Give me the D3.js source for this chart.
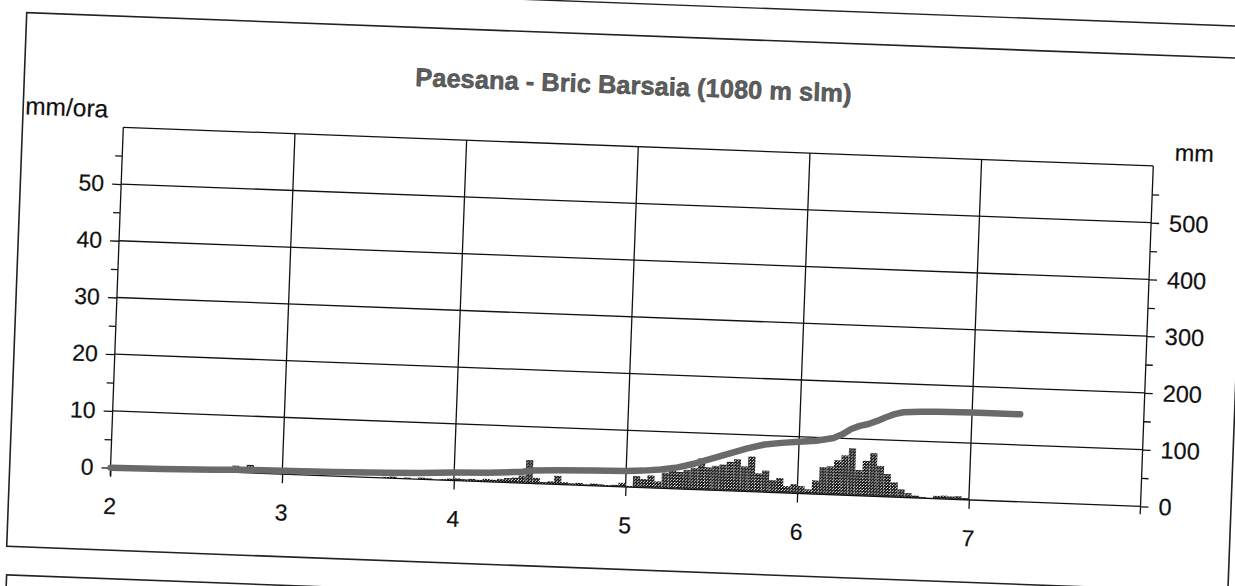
<!DOCTYPE html>
<html>
<head>
<meta charset="utf-8">
<script src="https://cdn.jsdelivr.net/npm/d3@7"></script>
<style>
  html, body { margin: 0; padding: 0; background: #fff; }
  svg { display: block; }
  text { font-family: "Liberation Sans", Arial, Helvetica, sans-serif; fill: #111; }
</style>
</head>
<body>
<svg id="chart" width="1235" height="586"></svg>
<script>
// ---------------- data ----------------
const chartTitle = "Paesana - Bric Barsaia (1080 m slm)";
const leftUnit = "mm/ora";
const rightUnit = "mm";
const xTicks = [2, 3, 4, 5, 6, 7];
const leftTicks = [0, 10, 20, 30, 40, 50];
const leftMinorTicks = [5, 15, 25, 35, 45, 55];
const rightTicks = [0, 100, 200, 300, 400, 500];
const rightMinorTicks = [50, 150, 250, 350, 450, 550];

// hourly rainfall intensity (mm/ora), one value per hour starting at day 2
const hourlyStartDay = 2;
const hourlyRain = [
  // day 2
  0,0,0,0,0,0,0,0,0,0,0,0,0,0,0,0,0.8,1.2,0.9,1.4,0.6,0,0,0,
  // day 3
  0,0,0,0,0,0,0,0,0,0,0,0,0,0,0.2,0.3,0,0.2,0,0.3,0.2,0,0.2,0.3,
  // day 4
  0.4,0.3,0.4,0.3,0.5,0.4,0.6,0.8,0.9,1.3,4.1,1.0,0.3,0.5,1.5,0.4,0.3,0.4,0.2,0.4,0.3,0.2,0.3,0.7,
  // day 5
  0.2,2.0,1.5,2.2,1.2,2.8,3.2,3.0,3.4,3.8,5.5,4.0,4.3,4.6,5.1,5.6,4.4,6.2,3.3,3.8,2.2,2.6,1.2,1.6,
  // day 6
  1.3,0.8,2.4,4.8,5.0,6.1,7.0,8.3,4.5,6.2,7.6,5.4,4.0,2.6,1.4,0.8,0.4,0.2,0,0.5,0.6,0.5,0.6,0.3
];

// cumulative rainfall (mm)
const cumDay = [2.0, 2.3, 2.6, 2.75, 3.0, 3.3, 3.6, 3.8, 4.0, 4.2, 4.4, 4.45, 4.6, 4.8, 5.0, 5.1, 5.2, 5.3, 5.4, 5.5, 5.6, 5.7, 5.8, 5.9, 6.0, 6.1, 6.2, 6.25, 6.3, 6.35, 6.4, 6.45, 6.5, 6.55, 6.6, 6.7, 6.8, 7.0, 7.28];
const cumMm  = [0,   1,   3,   5,    6,   7,   9,   11,  14,  16,  20,  23,   25,  27,  28,  30,  33,  38,  46,  56,  66,  76,  84,  88,  91,  94,  100, 107,  117, 123,  127, 133,  140, 146,  150, 152, 153, 154, 154];

// ---------------- layout ----------------
const svg = d3.select("#chart");
const tilt = 2.15;                 // scanned page rotation (degrees)
const plot = { left: 123.3, top: 127.3, width: 1030.7, height: 340.6 };
const frame = { x: 22.5, y: 16.4, w: 1222, h: 534 };
const fontFam = '"Liberation Sans", Arial, Helvetica, sans-serif';

const x = d3.scaleLinear().domain([2, 8]).range([plot.left, plot.left + plot.width]);
const yL = d3.scaleLinear().domain([0, 60]).range([plot.top + plot.height, plot.top]);
const yR = d3.scaleLinear().domain([0, 600]).range([plot.top + plot.height, plot.top]);

const defs = svg.append("defs");
const pat = defs.append("pattern").attr("id", "stipple")
  .attr("patternUnits", "userSpaceOnUse").attr("width", 3).attr("height", 3);
pat.append("rect").attr("width", 3).attr("height", 3).attr("fill", "#fff");
pat.append("circle").attr("cx", 0.75).attr("cy", 0.75).attr("r", 1.15).attr("fill", "#000");
pat.append("circle").attr("cx", 2.25).attr("cy", 2.25).attr("r", 1.15).attr("fill", "#000");

const g = svg.append("g").attr("transform", `rotate(${tilt}, ${plot.left}, ${plot.top})`);

// neighbouring frames on the scanned page + this frame
g.append("rect").attr("x", frame.x - 2).attr("y", -700).attr("width", frame.w + 4).attr("height", 700 - 15.6)
  .attr("fill", "none").attr("stroke", "#222").attr("stroke-width", 1.4);
g.append("rect").attr("x", frame.x + 1).attr("y", 579).attr("width", frame.w).attr("height", 600)
  .attr("fill", "none").attr("stroke", "#222").attr("stroke-width", 1.6);
g.append("rect").attr("x", frame.x).attr("y", frame.y).attr("width", frame.w).attr("height", frame.h)
  .attr("fill", "none").attr("stroke", "#222").attr("stroke-width", 1.6);

// title and units
g.append("text").attr("x", frame.x + frame.w / 2 - 2).attr("y", 75)
  .attr("text-anchor", "middle").attr("font-size", 25.5).attr("font-weight", "bold")
  .style("fill", "#5e5e5e").style("stroke", "#333").style("stroke-width", 0.45)
  .text(chartTitle);
g.append("text").attr("x", 24.5).attr("y", 118).attr("font-size", 24.5)
  .style("stroke", "#111").style("stroke-width", 0.2).text(leftUnit);
g.append("text").attr("x", 1175).attr("y", 121).attr("font-size", 23.5)
  .style("stroke", "#111").style("stroke-width", 0.2).text(rightUnit);

// grid
const grid = g.append("g").attr("stroke", "#111").attr("stroke-width", 1.3);
leftTicks.filter(d => d > 0).forEach(v => {
  grid.append("line").attr("x1", x(2)).attr("x2", x(8)).attr("y1", yL(v)).attr("y2", yL(v));
});
xTicks.filter(d => d > 2).forEach(v => {
  grid.append("line").attr("x1", x(v)).attr("x2", x(v)).attr("y1", yL(60)).attr("y2", yL(0));
});
grid.append("line").attr("x1", x(2)).attr("x2", x(8)).attr("y1", yL(60)).attr("y2", yL(60));

// bars
const hours = hourlyRain.map((v, i) => ({ t: hourlyStartDay + i / 24, v }));
g.append("g").selectAll("rect").data(hours.filter(d => d.v > 0)).join("rect")
  .attr("x", d => x(d.t))
  .attr("width", d => x(d.t + 1 / 24) - x(d.t))
  .attr("y", d => yL(d.v))
  .attr("height", d => yL(0) - yL(d.v))
  .attr("fill", "url(#stipple)");

// axes
const axisStyle = (sel, fs) => {
  sel.select(".domain").attr("stroke", "#111").attr("stroke-width", 1.3);
  sel.selectAll(".tick line").attr("stroke", "#111").attr("stroke-width", 1.3);
  sel.selectAll(".tick text").attr("font-size", fs).style("font-family", fontFam)
    .attr("fill", "#111").style("stroke", "#111").style("stroke-width", 0.2);
};

const axL = g.append("g").attr("transform", `translate(${x(2)},0)`)
  .call(d3.axisLeft(yL).tickValues(leftTicks).tickSize(9).tickPadding(8).tickSizeOuter(0));
axisStyle(axL, 23);
axL.select(".domain").attr("d", `M0,${yL(60)}V${yL(0) + 8}`);
g.append("g").attr("transform", `translate(${x(2)},0)`)
  .call(d3.axisLeft(yL).tickValues(leftMinorTicks).tickSize(7).tickFormat("").tickSizeOuter(0))
  .call(s => { s.select(".domain").remove(); s.selectAll("line").attr("stroke", "#111").attr("stroke-width", 1.3); });

const axR = g.append("g").attr("transform", `translate(${x(8)},0)`)
  .call(d3.axisRight(yR).tickValues(rightTicks).tickSize(8).tickPadding(10).tickSizeOuter(0));
axisStyle(axR, 23.5);
axR.select(".domain").attr("d", `M0,${yR(600)}V${yR(0) + 8}`);
g.append("g").attr("transform", `translate(${x(8)},0)`)
  .call(d3.axisRight(yR).tickValues(rightMinorTicks).tickSize(7).tickFormat("").tickSizeOuter(0))
  .call(s => { s.select(".domain").remove(); s.selectAll("line").attr("stroke", "#111").attr("stroke-width", 1.3); });

const axB = g.append("g").attr("transform", `translate(0,${yL(0)})`)
  .call(d3.axisBottom(x).tickValues(xTicks).tickSize(9).tickPadding(21).tickSizeOuter(0).tickFormat(d3.format("d")));
axisStyle(axB, 23);
axB.select(".domain").attr("d", `M${x(2)},0H${x(8)}`);

// cumulative line
g.append("path")
  .datum(cumDay.map((d, i) => [d, cumMm[i]]))
  .attr("fill", "none").attr("stroke", "#6a6a6a").attr("stroke-width", 6.5)
  .attr("stroke-linecap", "round").attr("stroke-linejoin", "round")
  .attr("d", d3.line().x(d => x(d[0])).y(d => yR(d[1])));
</script>
</body>
</html>
